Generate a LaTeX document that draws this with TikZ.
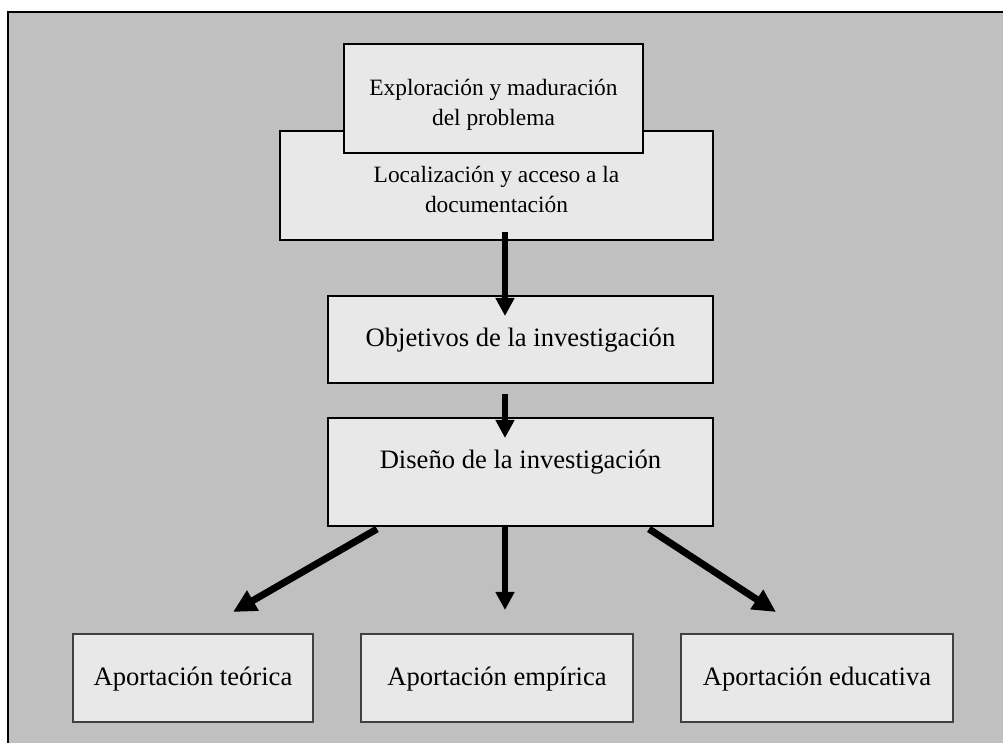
\documentclass[tikz,border=0pt]{standalone}
\usepackage{fontspec}
\setmainfont{Liberation Serif}
\usetikzlibrary{arrows.meta,calc}
\definecolor{fondo}{HTML}{C0C0C0}
\definecolor{cajagris}{HTML}{E8E8E8}
\begin{document}
\begin{tikzpicture}[x=.5pt,y=-.5pt,
	caja/.style={draw,line width=1pt,fill=cajagris,anchor=north,inner xsep=0pt,inner ysep=0pt,
		align=center,font=\fontsize{13.3}{15}\selectfont,text height=26pt,text depth=18pt},
	dosl/.style={caja,font=\fontsize{11.7}{15}\selectfont,text height=41pt,text depth=13.5pt},
	aporte/.style={caja,draw=black!75},
	flecha/.style={line width=3pt,-{Triangle[length=9pt,width=9pt]}},
	diagonal/.style={line width=3.5pt,-{Triangle[length=11.5pt,width=11pt]}}]
	\useasboundingbox (0,0) rectangle (1003,743);
	\clip (0,0) rectangle (1003,743);
	\fill [fondo,draw=black,line width=.6pt] (8,12) rectangle (1020,760);

	\node [dosl, minimum width=216.5pt] (loc) at (496.5,130) {Localización y acceso a la\\documentación};
	\node [dosl, minimum width=149.5pt] (expl) at (493.5,43) {Exploración y maduración\\del problema};
	\node [caja, minimum width=192.5pt, text height=25.5pt] (obj) at (520.5,295) {Objetivos de la investigación};
	\node [caja, minimum width=192.5pt, text height=25.5pt, text depth=28.5pt] (dis) at (520.5,417) {Diseño de la investigación};

	\node [aporte, minimum width=120pt] (teo) at (193,633) {Aportación teórica};
	\node [aporte, minimum width=136pt] (emp) at (497,633) {Aportación empírica};
	\node [aporte, minimum width=136pt] (edu) at (817,633) {Aportación educativa};

	\draw [flecha] ($(loc.south)+(8.5,-9)$) -- ($(obj.north)+(-15.5,21)$);
	\draw [flecha] ($(obj.south)+(-15.5,10)$) -- ($(dis.north)+(-15.5,21)$);
	\draw [diagonal] ($(dis.south west)+(50,2)$) -- ($(teo.north)+(40,-21)$);
	\draw [flecha] ($(dis.south)+(-15.5,0)$) -- ($(emp.north)+(8,-23)$);
	\draw [diagonal] ($(dis.south east)+(-65,2)$) -- ($(edu.north)+(-41,-21)$);
\end{tikzpicture}
\end{document}
